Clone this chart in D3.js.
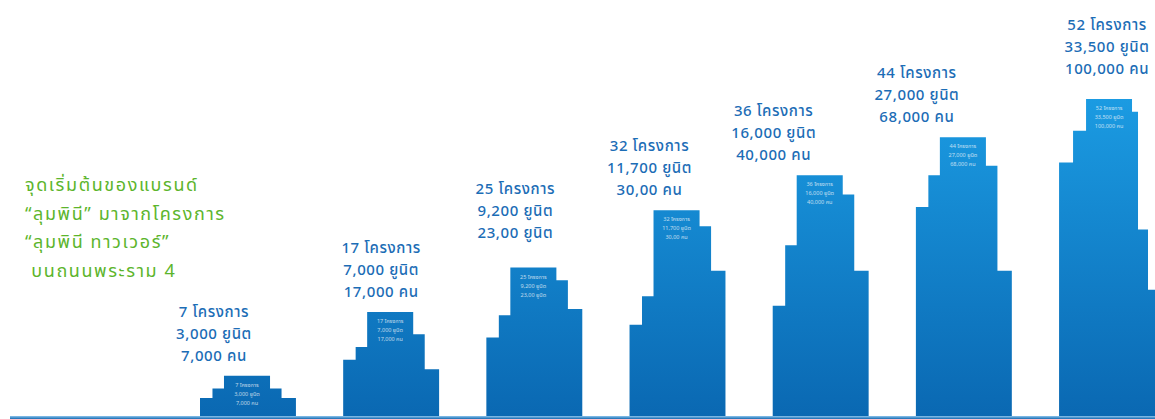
<!DOCTYPE html>
<html>
<head>
<meta charset="utf-8">
<style>
  body { margin: 0; background: #fff; }
  svg { display: block; }
  .lbl { font-family: "Noto Sans Thai", "Noto Sans", "DejaVu Sans", sans-serif; }
</style>
<script src="https://cdn.jsdelivr.net/npm/d3@7/dist/d3.min.js"></script>
</head>
<body>
<svg id="chart"></svg>
<script>
// one building per stage of the brand
let stages = ["s1", "s2", "s3", "s4", "s5", "s6", "s7"]
let lineProjects = ["7 โครงการ", "17 โครงการ", "25 โครงการ", "32 โครงการ", "36 โครงการ", "44 โครงการ", "52 โครงการ"]
let lineUnits = ["3,000 ยูนิต", "7,000 ยูนิต", "9,200 ยูนิต", "11,700 ยูนิต", "16,000 ยูนิต", "27,000 ยูนิต", "33,500 ยูนิต"]
let linePeople = ["7,000 คน", "17,000 คน", "23,00 ยูนิต", "30,00 คน", "40,000 คน", "68,000 คน", "100,000 คน"]

// height of each step of a building, % of the tallest tower
let stepHeights = [
  [6, 9, 13, 9, 6],
  [18, 22, 33, 26, 15],
  [25, 32, 47, 43, 34],
  [29, 38, 65, 60, 46],
  [35, 54, 76, 70, 46],
  [66, 76, 88, 79, 46],
  [80, 90, 100, 96, 59, 40]
]

let introLines = ["จุดเริ่มต้นของแบรนด์", "“ลุมพินี” มาจากโครงการ", "“ลุมพินี ทาวเวอร์”", " บนถนนพระราม 4"]

// layout
let width = 1155, height = 419
let baseY = 417
let labelShiftX = [-34, -10, -19, -28, -47, -47, 0]
let labelShiftY = [0, 0, -15, 0, 0, 0, -10]
let segWeights = { 5: [13, 12, 48, 12, 15], 6: [14, 13, 46, 6, 10, 7] }

let svg = d3.select("#chart").attr("width", width).attr("height", height)

let defs = svg.append("defs")
let grad = defs.append("linearGradient").attr("id", "bldg")
  .attr("gradientUnits", "userSpaceOnUse")
  .attr("x1", 0).attr("y1", 99).attr("x2", 0).attr("y2", baseY)
grad.append("stop").attr("offset", "0%").attr("stop-color", "#1b9be2")
grad.append("stop").attr("offset", "100%").attr("stop-color", "#0a68b2")

let lineGrad = defs.append("linearGradient").attr("id", "ground")
  .attr("x1", 0).attr("y1", 0).attr("x2", 0).attr("y2", 1)
lineGrad.append("stop").attr("offset", "0%").attr("stop-color", "#8cc4ec")
lineGrad.append("stop").attr("offset", "100%").attr("stop-color", "#166bb3")

let x = d3.scaleBand().domain(stages).range([200, 1155]).paddingInner(0.33).paddingOuter(0)
let y = d3.scaleLinear().domain([0, 100]).range([baseY, 99])

// split every band into steps
function segments(d, i) {
  let w = segWeights[d.length]
  let total = d3.sum(w)
  let x0 = x(stages[i])
  let out = []
  let acc = 0
  d.forEach((h, k) => {
    let sx = x0 + acc / total * x.bandwidth()
    acc += w[k]
    let ex = x0 + acc / total * x.bandwidth()
    out.push({ x0: sx, x1: ex, h: h })
  })
  return out
}

let stepArea = d3.area()
  .x(p => p.x)
  .y0(baseY)
  .y1(p => y(p.h))
  .curve(d3.curveStepAfter)

let buildings = svg.append("g").selectAll("g")
  .data(stepHeights)
  .enter().append("g")

buildings.append("path")
  .attr("d", (d, i) => {
    let segs = segments(d, i)
    let pts = segs.map(s => ({ x: s.x0, h: s.h }))
    pts.push({ x: segs[segs.length - 1].x1, h: segs[segs.length - 1].h })
    return stepArea(pts)
  })
  .attr("fill", "url(#bldg)")

// tiny white captions on top of each tower
buildings.each(function(d, i) {
  let segs = segments(d, i)
  let top = segs[2]
  let cx = (top.x0 + top.x1) / 2
  let g = d3.select(this)
  let lines = [lineProjects[i], lineUnits[i], linePeople[i]]
  lines.forEach((t, k) => {
    g.append("text")
      .attr("class", "lbl")
      .attr("x", cx)
      .attr("y", y(top.h) + 11 + k * 9)
      .attr("text-anchor", "middle")
      .attr("font-size", 5.5)
      .attr("fill", "#fff")
      .attr("opacity", 0.7)
      .text(t)
  })
})

// ground line
svg.append("rect")
  .attr("x", 10).attr("y", 416).attr("width", width - 10).attr("height", 3)
  .attr("fill", "url(#ground)")

// labels above the towers
let labels = svg.append("g").selectAll("g")
  .data(stepHeights)
  .enter().append("g")
  .attr("transform", (d, i) => {
    let cx = x(stages[i]) + x.bandwidth() / 2 + labelShiftX[i]
    let top = y(d3.max(d)) - 20 + labelShiftY[i]
    return "translate(" + cx + "," + top + ")"
  })

labels.each(function(d, i) {
  let g = d3.select(this)
  let lines = [lineProjects[i], lineUnits[i], linePeople[i]]
  lines.forEach((t, k) => {
    g.append("text")
      .attr("class", "lbl")
      .attr("y", (k - 2) * 22 + 5)
      .attr("text-anchor", "middle")
      .attr("font-size", 15)
      .attr("font-weight", 500)
      .attr("letter-spacing", 0.6)
      .attr("fill", "#1c6db6")
      .text(t)
  })
})

// intro text in green
svg.append("g").selectAll("text")
  .data(introLines)
  .enter().append("text")
  .attr("class", "lbl")
  .attr("x", 25)
  .attr("y", (d, i) => 191 + i * 28.5)
  .attr("font-size", 18)
  .attr("letter-spacing", 1.6)
  .attr("fill", "#5cb52c")
  .attr("xml:space", "preserve")
  .style("white-space", "pre")
  .text(d => d)
</script>
</body>
</html>
